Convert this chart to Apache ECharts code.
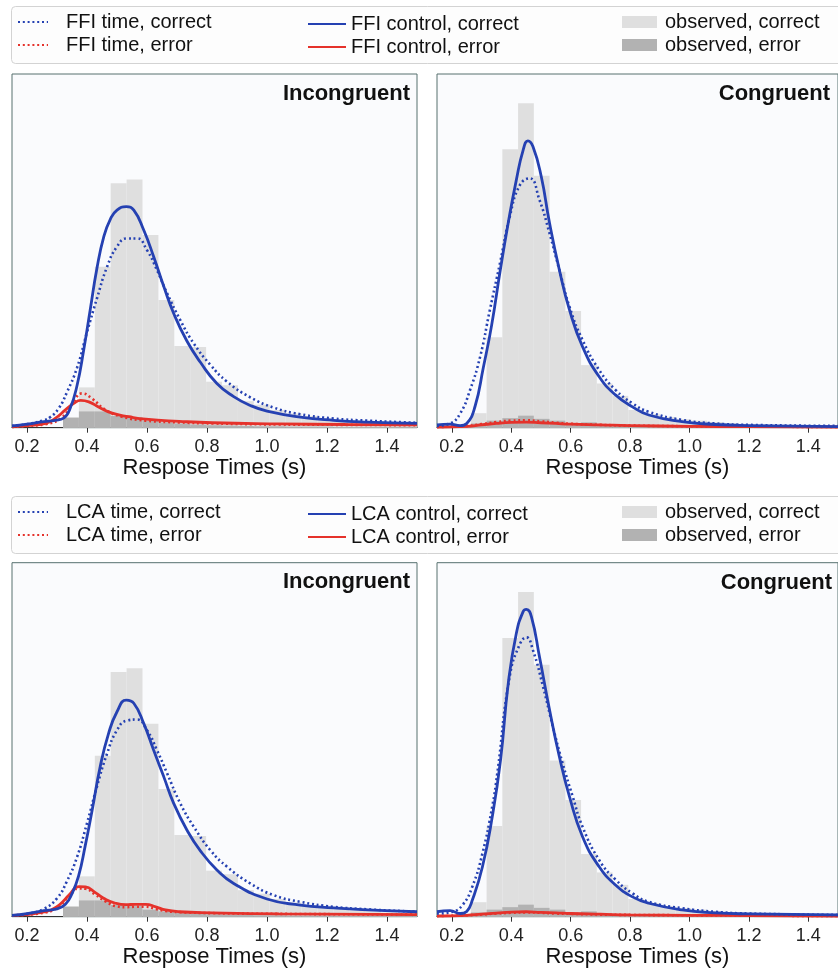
<!DOCTYPE html>
<html><head><meta charset="utf-8">
<script src="https://cdn.jsdelivr.net/npm/echarts@6/dist/echarts.min.js"></script>
<style>html,body{margin:0;padding:0;background:#fff}#c{width:838px;height:974px}</style>
</head><body><div id="c"></div>
<script>
// ---------- data ----------
const tickValues = [0.2, 0.4, 0.6, 0.8, 1.0, 1.2, 1.4];

// observed histograms (relative density), incongruent trials
const incongruentEdges = [0.32,0.373,0.426,0.479,0.532,0.585,0.638,0.691,0.744,0.797,0.85,0.903,0.956,1.009,1.062,1.115,1.168,1.221,1.274,1.327,1.38,1.433,1.486,1.539];
const incongruentCorrect = [0.03,0.114,0.455,0.691,0.702,0.545,0.361,0.231,0.228,0.13,0.12,0.075,0.065,0.05,0.04,0.033,0.027,0.022,0.018,0.015,0.012,0.01,0.008];
const incongruentError = [0.028,0.046,0.046,0.033,0.03,0.02,0.015,0.012,0.009,0.007,0.006,0.005,0.004,0.004,0.003,0.003,0.003,0.002,0.002,0.002,0.002,0.001,0.001];

// observed histograms, congruent trials
const congruentEdges = [0.211,0.264,0.317,0.37,0.423,0.476,0.529,0.582,0.635,0.688,0.741,0.794,0.847,0.9,0.953,1.006,1.059,1.112,1.165,1.218,1.271,1.324,1.377,1.43,1.483,1.536];
const congruentCorrect = [0.008,0.041,0.256,0.787,0.917,0.712,0.441,0.33,0.177,0.125,0.09,0.05,0.038,0.03,0.024,0.02,0.016,0.013,0.011,0.009,0.008,0.006,0.005,0.004,0.004];
const congruentError = [0.005,0.012,0.02,0.027,0.034,0.025,0.02,0.012,0.015,0.008,0.005,0.004,0.003,0.003,0.002,0.002,0.002,0.001,0.001,0.001,0.001,0.001,0.001,0.001,0.001];

// FFI model, incongruent
const ffiControlCorrectIncon = [[0.15,0.005],[0.2,0.01],[0.256,0.017],[0.294,0.021],[0.322,0.027],[0.344,0.055],[0.367,0.12],[0.389,0.22],[0.411,0.335],[0.433,0.45],[0.456,0.54],[0.478,0.59],[0.5,0.615],[0.531,0.625],[0.556,0.615],[0.589,0.559],[0.622,0.484],[0.656,0.399],[0.689,0.323],[0.733,0.245],[0.778,0.185],[0.833,0.125],[0.889,0.088],[0.944,0.063],[1.0,0.047],[1.111,0.03],[1.222,0.021],[1.333,0.016],[1.5,0.012]];
const ffiTimeCorrectIncon = [[0.15,0.005],[0.2,0.01],[0.256,0.021],[0.278,0.03],[0.306,0.055],[0.333,0.1],[0.367,0.17],[0.4,0.27],[0.433,0.365],[0.467,0.455],[0.5,0.512],[0.533,0.535],[0.567,0.535],[0.6,0.502],[0.633,0.446],[0.667,0.38],[0.711,0.304],[0.756,0.238],[0.811,0.178],[0.867,0.13],[0.944,0.086],[1.022,0.057],[1.111,0.038],[1.222,0.026],[1.333,0.02],[1.5,0.014]];
const ffiControlErrorIncon = [[0.15,0.003],[0.2,0.006],[0.262,0.012],[0.295,0.027],[0.329,0.051],[0.356,0.069],[0.379,0.077],[0.406,0.073],[0.44,0.058],[0.484,0.041],[0.54,0.031],[0.596,0.024],[0.707,0.018],[0.818,0.014],[1.04,0.011],[1.262,0.009],[1.5,0.008]];
const ffiTimeErrorIncon = [[0.15,0.002],[0.2,0.005],[0.262,0.01],[0.318,0.03],[0.351,0.068],[0.384,0.097],[0.417,0.082],[0.461,0.051],[0.517,0.031],[0.596,0.02],[0.707,0.015],[0.818,0.012],[1.04,0.009],[1.262,0.008],[1.5,0.007]];

// FFI model, congruent
const ffiControlCorrectCon = [[0.15,0.008],[0.194,0.01],[0.228,0.006],[0.25,0.012],[0.278,0.06],[0.306,0.17],[0.334,0.29],[0.362,0.44],[0.39,0.58],[0.417,0.7],[0.44,0.785],[0.456,0.811],[0.473,0.795],[0.501,0.71],[0.529,0.578],[0.562,0.446],[0.596,0.333],[0.64,0.229],[0.696,0.144],[0.752,0.092],[0.808,0.059],[0.863,0.036],[0.975,0.017],[1.086,0.009],[1.198,0.006],[1.5,0.003]];
const ffiTimeCorrectCon = [[0.15,0.005],[0.194,0.012],[0.228,0.04],[0.261,0.106],[0.295,0.2],[0.328,0.333],[0.362,0.465],[0.395,0.597],[0.429,0.686],[0.462,0.705],[0.495,0.644],[0.529,0.549],[0.562,0.446],[0.596,0.342],[0.64,0.248],[0.696,0.163],[0.752,0.106],[0.808,0.069],[0.863,0.045],[0.975,0.022],[1.086,0.012],[1.198,0.008],[1.5,0.005]];
const ffiControlErrorCon = [[0.15,0.002],[0.25,0.004],[0.3,0.008],[0.35,0.012],[0.4,0.015],[0.45,0.016],[0.5,0.014],[0.55,0.012],[0.6,0.01],[0.7,0.008],[0.8,0.006],[1.0,0.004],[1.2,0.003],[1.5,0.002]];
const ffiTimeErrorCon = [[0.15,0.002],[0.25,0.005],[0.3,0.01],[0.35,0.016],[0.4,0.02],[0.45,0.021],[0.5,0.018],[0.55,0.014],[0.6,0.011],[0.7,0.008],[0.8,0.006],[1.0,0.004],[1.2,0.003],[1.5,0.002]];

// LCA model, incongruent
const lcaControlCorrectIncon = [[0.15,0.004],[0.2,0.009],[0.256,0.017],[0.3,0.022],[0.328,0.035],[0.35,0.065],[0.372,0.115],[0.394,0.2],[0.417,0.3],[0.444,0.424],[0.472,0.518],[0.5,0.579],[0.531,0.612],[0.556,0.603],[0.589,0.546],[0.622,0.471],[0.656,0.395],[0.689,0.32],[0.733,0.245],[0.778,0.186],[0.833,0.132],[0.889,0.094],[1.0,0.05],[1.111,0.033],[1.222,0.025],[1.333,0.019],[1.5,0.014]];
const lcaTimeCorrectIncon = [[0.15,0.004],[0.2,0.008],[0.256,0.022],[0.3,0.052],[0.333,0.1],[0.367,0.169],[0.4,0.264],[0.433,0.367],[0.467,0.461],[0.5,0.527],[0.533,0.554],[0.567,0.557],[0.6,0.527],[0.633,0.471],[0.667,0.405],[0.711,0.32],[0.756,0.254],[0.811,0.188],[0.867,0.141],[0.944,0.094],[1.022,0.061],[1.111,0.042],[1.222,0.028],[1.333,0.021],[1.5,0.014]];
const lcaControlErrorIncon = [[0.15,0.004],[0.262,0.014],[0.307,0.033],[0.34,0.061],[0.373,0.085],[0.395,0.084],[0.428,0.068],[0.462,0.049],[0.495,0.038],[0.529,0.034],[0.562,0.035],[0.596,0.035],[0.629,0.028],[0.662,0.019],[0.707,0.014],[0.818,0.011],[1.04,0.008],[1.5,0.006]];
const lcaTimeErrorIncon = [[0.15,0.003],[0.262,0.012],[0.307,0.03],[0.34,0.058],[0.373,0.08],[0.395,0.079],[0.428,0.062],[0.462,0.043],[0.495,0.03],[0.529,0.027],[0.562,0.028],[0.596,0.028],[0.629,0.022],[0.662,0.016],[0.707,0.013],[0.818,0.01],[1.04,0.008],[1.5,0.006]];

// LCA model, congruent
const lcaControlCorrectCon = [[0.15,0.014],[0.194,0.017],[0.228,0.009],[0.25,0.015],[0.269,0.047],[0.303,0.141],[0.336,0.282],[0.364,0.443],[0.39,0.66],[0.417,0.8],[0.44,0.862],[0.451,0.868],[0.468,0.847],[0.495,0.734],[0.529,0.584],[0.562,0.452],[0.596,0.339],[0.64,0.226],[0.696,0.141],[0.752,0.089],[0.808,0.056],[0.863,0.038],[0.975,0.019],[1.086,0.011],[1.198,0.008],[1.5,0.005]];
const lcaTimeCorrectCon = [[0.15,0.009],[0.202,0.014],[0.236,0.033],[0.269,0.085],[0.303,0.179],[0.336,0.311],[0.353,0.405],[0.395,0.68],[0.429,0.77],[0.451,0.789],[0.473,0.753],[0.507,0.65],[0.54,0.537],[0.573,0.433],[0.607,0.339],[0.64,0.254],[0.696,0.16],[0.752,0.104],[0.808,0.066],[0.863,0.042],[0.975,0.024],[1.086,0.014],[1.198,0.009],[1.5,0.005]];
const lcaControlErrorCon = [[0.15,0.002],[0.25,0.004],[0.3,0.007],[0.35,0.01],[0.4,0.013],[0.45,0.014],[0.5,0.012],[0.55,0.011],[0.6,0.009],[0.7,0.007],[0.8,0.005],[1.0,0.004],[1.2,0.003],[1.5,0.002]];
const lcaTimeErrorCon = [[0.15,0.002],[0.25,0.004],[0.3,0.006],[0.35,0.009],[0.4,0.011],[0.45,0.012],[0.5,0.011],[0.55,0.009],[0.6,0.008],[0.7,0.006],[0.8,0.005],[1.0,0.004],[1.2,0.003],[1.5,0.002]];

const panelTitles = ['Incongruent', 'Congruent', 'Incongruent', 'Congruent'];
const axisTitle = 'Respose Times (s)';

// ---------- styling ----------
const FONT = '"Liberation Sans", Arial, Helvetica, sans-serif';
const BLUE = '#2541b2', RED = '#e5322b';
const LIGHT = '#dfdfdf', DARK = '#b2b2b2';
const DOT = [2, 2.8];

const grids = [
  {left: 12, top: 74, width: 405, height: 353.7},
  {left: 437, top: 74, width: 405, height: 353.7},
  {left: 12, top: 562.7, width: 405, height: 354},
  {left: 437, top: 562.7, width: 405, height: 354}
].map(g => Object.assign(g, {show: true, backgroundColor: '#fafbfd', borderColor: '#56706f', borderWidth: 1}));

const xAxes = grids.map((g, i) => ({
  type: 'value', gridIndex: i, min: 0.15, max: 1.5,
  name: axisTitle, nameLocation: 'middle', nameGap: 29,
  nameTextStyle: {fontSize: 22, color: '#111', fontFamily: FONT},
  axisLine: {show: true, onZero: false, lineStyle: {color: '#333', width: 1}},
  axisTick: {show: true, customValues: tickValues, length: 5, lineStyle: {color: '#333'}},
  axisLabel: {customValues: tickValues, margin: 10, fontSize: 18, color: '#222', fontFamily: FONT,
              formatter: v => Number(v).toFixed(1)},
  splitLine: {show: false}
}));
const yAxes = grids.map((g, i) => ({type: 'value', gridIndex: i, min: 0, max: 1, show: false, splitLine: {show: false}}));

function renderBin(params, api) {
  const a = api.coord([api.value(0), api.value(2)]);
  const b = api.coord([api.value(1), 0]);
  const cs = params.coordSys;
  const shape = echarts.graphic.clipRectByRect(
    {x: a[0], y: a[1], width: b[0] - a[0], height: b[1] - a[1]},
    {x: cs.x, y: cs.y, width: cs.width, height: cs.height});
  return shape && {type: 'rect', shape: shape, style: {fill: api.visual('color')}};
}
function bins(edges, heights) {
  return heights.map((h, i) => [edges[i], edges[i + 1], h]);
}
function hist(name, idx, edges, heights, color, z) {
  return {type: 'custom', name: name, xAxisIndex: idx, yAxisIndex: idx, renderItem: renderBin,
          itemStyle: {color: color}, encode: {x: [0, 1], y: 2}, data: bins(edges, heights), z: z, silent: true};
}
function curve(name, idx, data, color, dotted, z) {
  return {type: 'line', name: name, xAxisIndex: idx, yAxisIndex: idx, data: data, smooth: 0.5,
          symbol: 'none', showSymbol: false, silent: true, z: z,
          itemStyle: {color: color},
          lineStyle: {color: color, width: dotted ? 2.6 : 2.8, type: dotted ? DOT : 'solid'}};
}

const panels = [
  {m: 'FFI', edges: incongruentEdges, oc: incongruentCorrect, oe: incongruentError,
   cc: ffiControlCorrectIncon, tc: ffiTimeCorrectIncon, ce: ffiControlErrorIncon, te: ffiTimeErrorIncon},
  {m: 'FFI', edges: congruentEdges, oc: congruentCorrect, oe: congruentError,
   cc: ffiControlCorrectCon, tc: ffiTimeCorrectCon, ce: ffiControlErrorCon, te: ffiTimeErrorCon},
  {m: 'LCA', edges: incongruentEdges, oc: incongruentCorrect, oe: incongruentError,
   cc: lcaControlCorrectIncon, tc: lcaTimeCorrectIncon, ce: lcaControlErrorIncon, te: lcaTimeErrorIncon},
  {m: 'LCA', edges: congruentEdges, oc: congruentCorrect, oe: congruentError,
   cc: lcaControlCorrectCon, tc: lcaTimeCorrectCon, ce: lcaControlErrorCon, te: lcaTimeErrorCon}
];

const series = [];
panels.forEach((p, i) => {
  series.push(hist('observed, correct', i, p.edges, p.oc, LIGHT, 1));
  series.push(hist('observed, error', i, p.edges, p.oe, DARK, 2));
  series.push(curve(p.m + ' time, error', i, p.te, RED, true, 3));
  series.push(curve(p.m + ' control, error', i, p.ce, RED, false, 4));
  series.push(curve(p.m + ' time, correct', i, p.tc, BLUE, true, 5));
  series.push(curve(p.m + ' control, correct', i, p.cc, BLUE, false, 6));
});

const titles = [
  {text: panelTitles[0], right: 428, top: 83},
  {text: panelTitles[1], right: 8, top: 83},
  {text: panelTitles[2], right: 428, top: 571},
  {text: panelTitles[3], right: 6, top: 572}
].map(t => Object.assign(t, {padding: 0, textStyle: {fontSize: 22, fontWeight: 'bold', color: '#111', fontFamily: FONT}}));

function legendBlock(names, left, top, iconW, iconH, padLeft, isRect) {
  const lg = {
    orient: 'vertical', left: left, top: top, padding: 0, itemGap: 3,
    itemWidth: iconW, itemHeight: iconH, selectedMode: false,
    textStyle: {fontSize: 20, color: '#111', fontFamily: FONT, padding: [0, 0, 0, padLeft], lineHeight: 20},
    data: names.map(n => isRect ? {name: n, icon: 'rect'} : {name: n})
  };
  if (!isRect) lg.itemStyle = {opacity: 0, borderWidth: 0};
  return lg;
}
const legends = [];
[['FFI', 0], ['LCA', 490]].forEach(([m, off]) => {
  legends.push(legendBlock([m + ' time, correct', m + ' time, error'], 17, 12 + off, 30, 14, 13, false));
  legends.push(legendBlock([m + ' control, correct', m + ' control, error'], 307, 14 + off, 38, 14, 0, false));
  legends.push(legendBlock(['observed, correct', 'observed, error'], 622, 12 + off, 35, 12, 3, true));
});

const boxes = [6, 496].map(y => ({
  type: 'rect', left: 11, top: y, z: -10,
  shape: {width: 840, height: 57, r: 4},
  style: {fill: '#fdfdfd', stroke: '#d3d3d3', lineWidth: 1}
}));

const chart = echarts.init(document.getElementById('c'), null, {renderer: 'canvas'});
chart.setOption({
  animation: false,
  backgroundColor: '#ffffff',
  textStyle: {fontFamily: FONT},
  title: titles,
  legend: legends,
  graphic: boxes,
  grid: grids,
  xAxis: xAxes,
  yAxis: yAxes,
  series: series
});
</script>
</body></html>
